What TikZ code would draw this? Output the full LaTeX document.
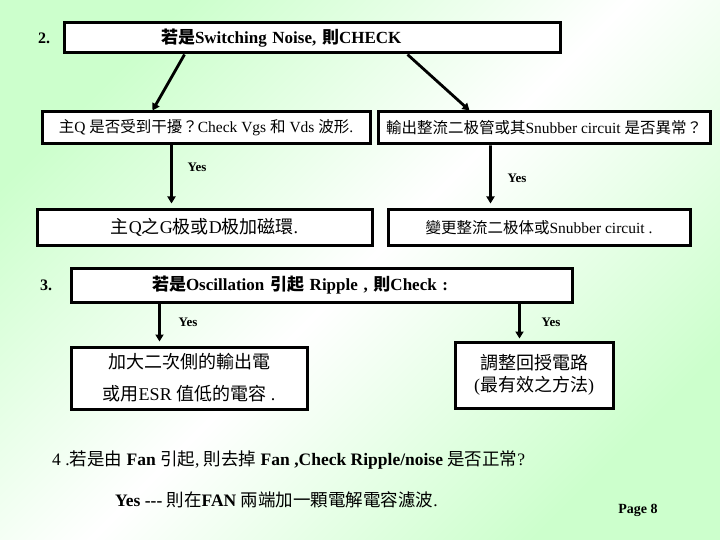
\documentclass[tikz,border=0pt]{standalone}
\usepackage{fontspec}
\setmainfont{Liberation Serif}
\newfontfamily\cjk{Noto Sans CJK TC}
\usetikzlibrary{arrows.meta}
\definecolor{mint}{HTML}{CCFFCC}
\newcommand{\zh}[1]{{\cjk #1}}
\newcommand{\fs}[1]{\fontsize{#1}{#1}\selectfont}
\tikzset{arr/.style={-{Triangle[length=7pt,width=8pt]},line width=2.8pt,draw=black},
  box/.style={draw=black,line width=3pt,fill=white,inner xsep=8pt,inner ysep=2pt,align=center,font=\fs{15.5}},
  headbox/.style={box,font=\bfseries\fs{17}},
  yeslabel/.style={font=\bfseries\fs{13}},
  stepno/.style={font=\bfseries\fs{16}}}

\begin{document}
\begin{tikzpicture}[x=1pt,y=-1pt]
\useasboundingbox (0,0) rectangle (720,540);
\shade[left color=mint,right color=mint,middle color=white,shading angle=45] (0,0) rectangle (720,540);
% step 2
\node[stepno] (no2) at (44,38) {2.};
\node[headbox,minimum width=496pt,minimum height=30pt,text width=480pt,align=left] (noise) at (312,38) {\hspace*{89pt}\zh{若是}Switching Noise, \zh{則}CHECK};
\node[box,minimum width=328pt,minimum height=32pt] (chkq) at (206,128) {\zh{主}Q \zh{是否受到干擾？}Check Vgs \zh{和} Vds \zh{波形}.};
\node[box,minimum width=332pt,minimum height=32pt] (chkd) at (544,128) {\zh{輸出整流二极管或其}Snubber circuit \zh{是否異常？}};
\node[box,minimum width=335pt,minimum height=35pt,font=\fs{18}] (fixq) at (204.5,227.5) {\zh{主}Q\zh{之}G\zh{极或}D\zh{极加磁環}.};
\node[box,minimum width=302pt,minimum height=35pt] (fixd) at (539,227.5) {\zh{變更整流二极体或}Snubber circuit .};
\draw[arr] ([xshift=122pt]noise.south west) -- ([xshift=112pt]chkq.north west);
\draw[arr] ([xshift=345pt]noise.south west) -- ([xshift=93pt]chkd.north west);
\draw[arr,shorten >=5pt] ([xshift=131pt]chkq.south west) -- ([xshift=136pt]fixq.north west);
\draw[arr,shorten >=5pt] ([xshift=114pt]chkd.south west) -- ([xshift=104pt]fixd.north west);
\node[yeslabel] (yes1) at (197,167) {Yes};
\node[yeslabel] (yes2) at (517,178) {Yes};
% step 3
\node[stepno] (no3) at (46,285) {3.};
\node[headbox,minimum width=501pt,minimum height=34pt,text width=485pt,align=left] (osc) at (321.5,285) {\hspace*{73pt}\zh{若是}Oscillation \zh{引起} Ripple , \zh{則}Check :};
\node[box,minimum width=236pt,minimum height=62pt,font=\fs{18},execute at begin node=\setlength{\baselineskip}{32pt}] (cap) at (189,378) {\zh{加大二次側的輸出電}\\\zh{或用}ESR \zh{值低的電容} .};
\node[box,minimum width=158pt,minimum height=66pt,font=\fs{18},execute at begin node=\setlength{\baselineskip}{22pt}] (loop) at (534,375) {\zh{調整回授電路}\\(\zh{最有效之方法})};
\draw[arr,shorten >=4pt] ([xshift=90pt]osc.south west) -- ([xshift=90pt]cap.north west);
\draw[arr,shorten >=2pt] ([xshift=450pt]osc.south west) -- ([xshift=66pt]loop.north west);
\node[yeslabel] (yes3) at (188,322) {Yes};
\node[yeslabel] (yes4) at (551,322) {Yes};
% step 4
\node[anchor=west,inner sep=0pt,font=\fs{17.5}] (fan) at (52,460) {4 .\zh{若是由} \textbf{Fan} \zh{引起}, \zh{則去掉} \textbf{Fan ,Check Ripple/noise} \zh{是否正常}?};
\node[anchor=west,inner sep=0pt,font=\fs{17.5}] (fanyes) at (115,500) {\textbf{Yes -{}-{}-} \zh{則在}\textbf{FAN} \zh{兩端加一顆電解電容濾波}.};
\node[font=\bfseries\fs{14}] (page) at (638,510) {Page 8};
\end{tikzpicture}
\end{document}
